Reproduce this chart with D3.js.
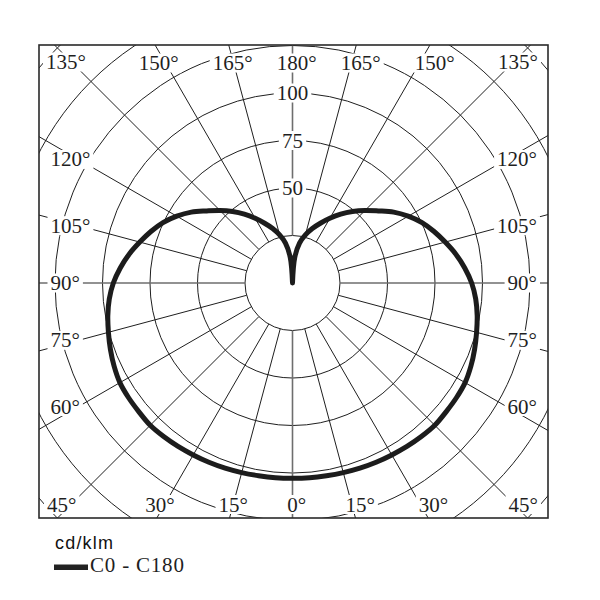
<!DOCTYPE html>
<html><head><meta charset="utf-8">
<script src="https://cdn.jsdelivr.net/npm/d3@7"></script>
<style>body{margin:0;background:#fff}</style>
</head><body><svg id="c" width="600" height="600"></svg>
<script>
// gamma angles (deg, 0 = down, 180 = up)
const GAMMA = [0,5,10,15,20,25,30,35,40,45,50,55,60,65,70,75,80,85,90,95,100,105,110,115,120,125,130,135,140,145,150,155,160,165,170,175,180];
// intensity cd/klm, C0 - C180 (mirrored both halves)
const C0_C180 = [102.8,102.9,103.0,103.3,103.7,104.1,104.5,105.0,105.5,105.9,105.5,105.3,104.9,103.6,102.0,100.3,98.7,96.8,94.3,91.0,87.3,83.2,79.3,75.2,70.3,65.0,59.0,54.0,49.1,44.2,39.3,34.7,30.5,26.2,21.3,13.5,0];
const ANGLE_TICKS = [0,15,30,45,60,75,90,105,120,135,150,165,180];
const RING_VALUES = [25,50,75,100,125,150,175,200];
const RING_LABELS = [50,75,100];
const LEGEND_UNIT = "cd/klm";
const LEGEND_SERIES = "C0 - C180";

const box = {left:39, top:45, right:548, bottom:518};
const cx = 292.5, cy = 283;
const r = d3.scaleLinear().domain([0,100]).range([0,190]);
const svg = d3.select('#c');
const INK = '#1f1f1f';
const FS = 21;
const DEG_HALF = 0.4*FS/2;

svg.append('defs').append('clipPath').attr('id','clip').append('rect')
  .attr('x',box.left).attr('y',box.top).attr('width',box.right-box.left).attr('height',box.bottom-box.top);

const g = svg.append('g').attr('clip-path','url(#clip)');
const grid = g.append('g').attr('transform',`translate(${cx},${cy})`);

function pt(a, s, rr){ const t=a*Math.PI/180; return [s*rr*Math.sin(t), rr*Math.cos(t)]; }

grid.selectAll('circle.ring').data(RING_VALUES).join('circle')
  .attr('class','ring').attr('r',d=>r(d)).attr('fill','none')
  .attr('stroke',INK).attr('stroke-width',1);

const rays = [];
ANGLE_TICKS.forEach(a=>{ rays.push({a, s:1}); if(a>0 && a<180) rays.push({a, s:-1}); });

grid.selectAll('line.ray').data(rays).join('line')
  .attr('class','ray')
  .attr('x1',d=>pt(d.a,d.s,r(25))[0]).attr('y1',d=>pt(d.a,d.s,r(25))[1])
  .attr('x2',d=>pt(d.a,d.s,r(260))[0]).attr('y2',d=>pt(d.a,d.s,r(260))[1])
  .attr('stroke', d=> d.a%90===0 ? '#6e6e6e' : INK)
  .attr('stroke-width', d=> d.a%90===0 ? 1.6 : 1);

// labels
const labels = svg.append('g').attr('font-family','"Liberation Serif", "Times New Roman", serif')
  .attr('font-size',FS).attr('fill',INK);

function labelSpec(a, s){
  const t = a*Math.PI/180, sin=Math.sin(t), cos=Math.cos(t);
  if (a===135) return {x: s<0 ? box.left+7 : box.right-10, y: box.top+24, anchor: s<0?'start':'end'};
  if (a===45) return {x: s<0 ? box.left+8 : box.right-10, y: box.bottom-6.5, anchor: s<0?'start':'end'};
  if (a>=150){ const k=(cy-(box.top-1))/(-cos); return {x: cx + s*k*sin + DEG_HALF, y: box.top+25, anchor:'middle'}; }
  if (a<=30){ const k=(box.bottom+2-cy)/cos; return {x: cx + s*k*sin + DEG_HALF, y: box.bottom-6.5, anchor:'middle'}; }
  const k = 214/sin;
  return {x: s<0 ? box.left+11.5 : box.right-11, y: cy + k*cos + 7, anchor: s<0?'start':'end'};
}

function addLabel(text, spec){
  const grp = labels.append('g');
  const rect = grp.append('rect').attr('fill','#fff');
  const tx = grp.append('text').attr('x',spec.x).attr('y',spec.y).attr('text-anchor',spec.anchor).text(text);
  const bb = tx.node().getBBox();
  rect.attr('x',bb.x-3).attr('width',bb.width+6).attr('y',spec.y-16.5).attr('height',19);
}

rays.forEach(d=> addLabel(d.a + '°', labelSpec(d.a, d.s)));
RING_LABELS.forEach(v=> addLabel(String(v), {x: cx, y: cy - r(v) + 7, anchor:'middle'}));

// curve: left half (C180) from top to bottom, then right half (C0) back up
const pts = [];
for (let i=GAMMA.length-1; i>=0; i--) pts.push(pt(GAMMA[i], -1, r(C0_C180[i])));
for (let i=1; i<GAMMA.length; i++) pts.push(pt(GAMMA[i], 1, r(C0_C180[i])));
const line = d3.line().curve(d3.curveCatmullRom.alpha(0.5));
g.append('path').attr('transform',`translate(${cx},${cy})`)
  .attr('d', line(pts)).attr('fill','none').attr('stroke','#1c1c1c')
  .attr('stroke-width',5).attr('stroke-linejoin','round').attr('stroke-linecap','round');

// frame
svg.append('rect').attr('x',box.left).attr('y',box.top)
  .attr('width',box.right-box.left).attr('height',box.bottom-box.top)
  .attr('fill','none').attr('stroke','#2a2a2a').attr('stroke-width',1.6);

// legend
svg.append('text').attr('x',55).attr('y',549)
  .attr('font-family','"Liberation Sans", Arial, sans-serif').attr('font-size',18)
  .attr('letter-spacing',1.2).attr('fill','#111').text(LEGEND_UNIT);
svg.append('line').attr('x1',54).attr('x2',88).attr('y1',567.3).attr('y2',567.3)
  .attr('stroke','#222').attr('stroke-width',5.5);
svg.append('text').attr('x',90).attr('y',572)
  .attr('font-family','"Liberation Serif", "Times New Roman", serif').attr('font-size',21)
  .attr('letter-spacing',0.8).attr('fill',INK).text(LEGEND_SERIES);
</script>
</body></html>
